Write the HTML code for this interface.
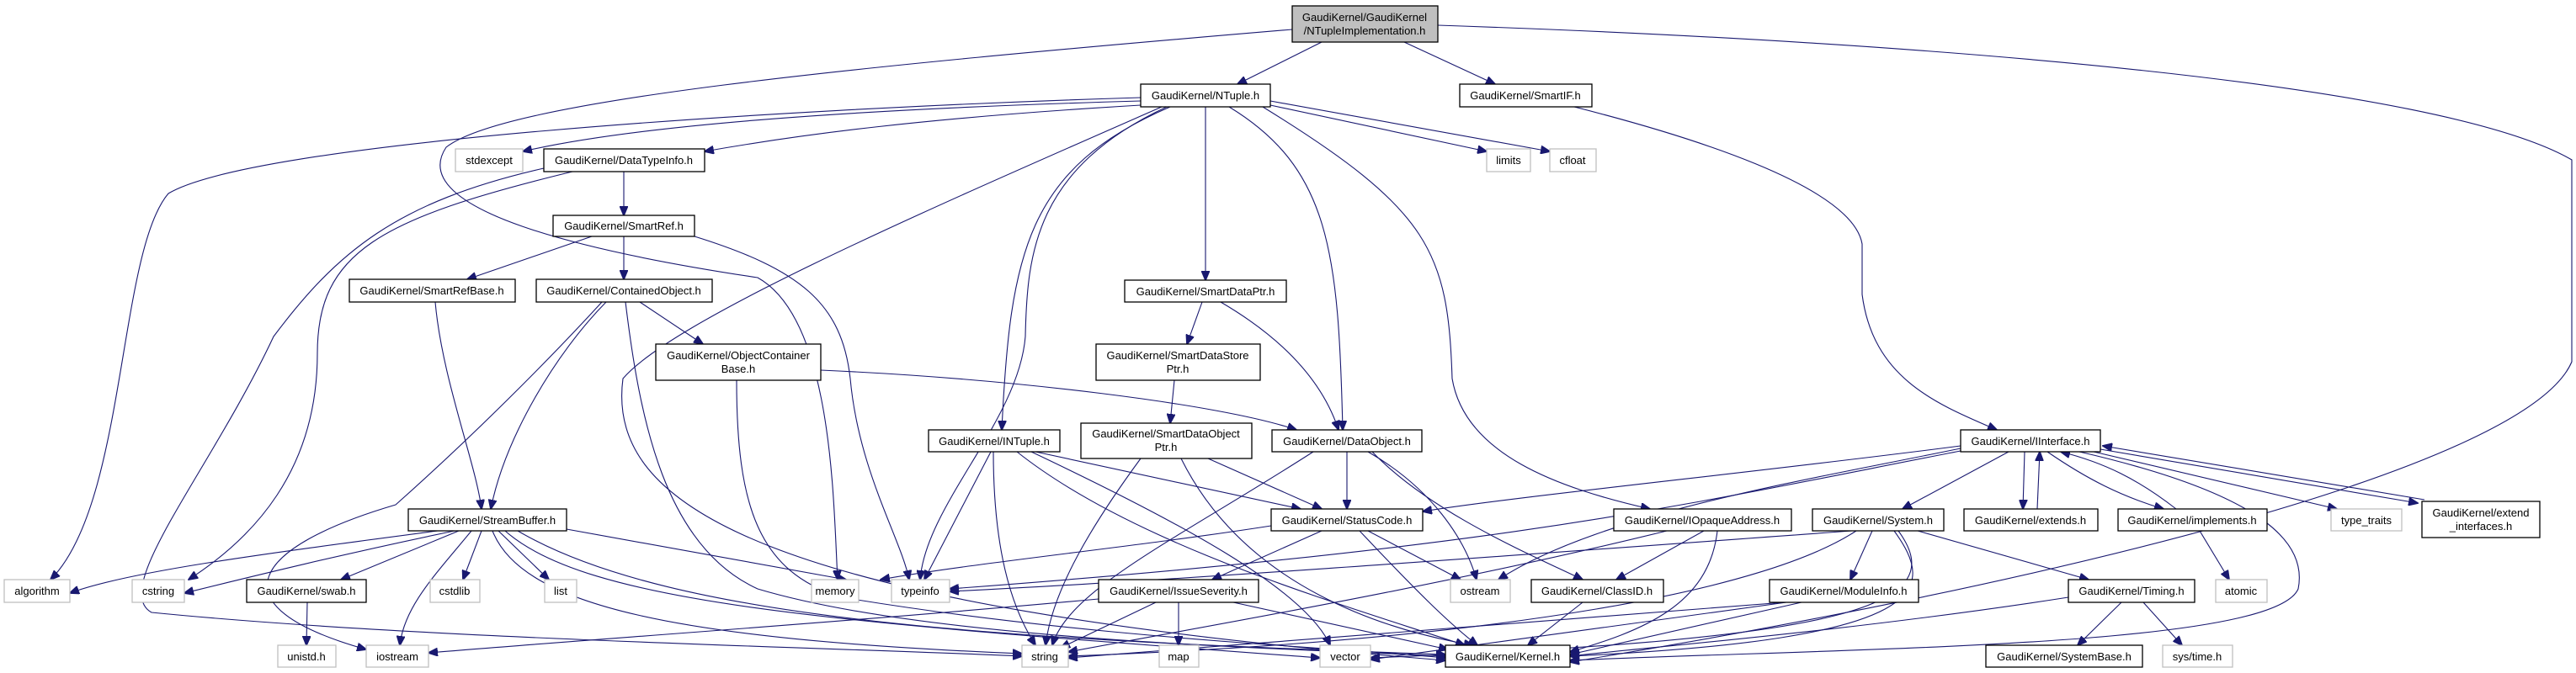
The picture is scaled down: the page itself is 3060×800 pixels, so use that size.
<!DOCTYPE html>
<html><head><meta charset="utf-8"><style>
html,body{margin:0;padding:0;background:#fff;}
svg{display:block;}
text{font-family:"Liberation Sans",Arial,sans-serif;font-size:13px;fill:#000;}
.b{fill:#fff;stroke:#000;stroke-width:1.3;}
.g{fill:#fff;stroke:#bfbfbf;stroke-width:1.3;}
.e{fill:none;stroke:#191970;stroke-width:1.1;marker-end:url(#a);}
</style></head><body>
<svg width="3060" height="800" viewBox="0 0 3060 800" xmlns="http://www.w3.org/2000/svg">
<defs><marker id="a" markerUnits="userSpaceOnUse" markerWidth="12" markerHeight="10" refX="11" refY="5" orient="auto"><path d="M0,0 L12,5 L0,10 z" fill="#191970" stroke="#191970"/></marker></defs>
<g>
<path class="e" d="M1570,50 L1470,100"/>
<path class="e" d="M1668,50 L1776,100"/>
<path class="e" d="M1708,30 C2300,50 2900,100 3055,190 L3055,430 C3000,560 2400,700 1865,787"/>
<path class="e" d="M1535,35 C1000,80 600,120 530,175 C480,250 700,300 900,330 C990,380 990,600 995,689"/>
<path class="e" d="M1355,116 C900,130 300,170 200,230 C140,300 150,600 60,689"/>
<path class="e" d="M1355,120 C1000,130 750,150 621,180"/>
<path class="e" d="M1355,125 C1100,140 950,160 837,180"/>
<path class="e" d="M1509,125 L1766,180"/>
<path class="e" d="M1509,120 L1841,180"/>
<path class="e" d="M1432,127 L1432,333"/>
<path class="e" d="M1390,127 C1220,200 1200,300 1190,511"/>
<path class="e" d="M1380,127 C1100,250 800,380 740,450 C720,600 900,720 1717,785"/>
<path class="e" d="M1386,127 C1230,200 1220,300 1218,400 C1210,500 1100,600 1093,689"/>
<path class="e" d="M1460,127 C1580,200 1590,300 1595,511"/>
<path class="e" d="M1500,127 C1700,250 1720,300 1725,450 C1740,540 1850,580 1960,605"/>
<path class="e" d="M741,204 L741,256"/>
<path class="e" d="M646,200 C470,240 400,300 325,400 C250,560 130,700 180,728 C500,760 1000,770 1214,780"/>
<path class="e" d="M680,204 C450,260 377,300 377,420 C377,560 300,640 224,689"/>
<path class="e" d="M703,281 L555,332"/>
<path class="e" d="M741,281 L741,332"/>
<path class="e" d="M825,281 C950,320 1000,360 1010,450 C1020,560 1070,640 1080,689"/>
<path class="e" d="M517,359 C525,450 565,550 572,605"/>
<path class="e" d="M720,359 C660,420 600,520 583,605"/>
<path class="e" d="M715,359 C650,430 560,520 470,600 C300,650 250,720 435,772"/>
<path class="e" d="M743,359 C760,500 790,650 900,700 C1100,760 1500,770 1717,780"/>
<path class="e" d="M760,359 L835,409"/>
<path class="e" d="M975,440 C1200,450 1450,480 1540,511"/>
<path class="e" d="M875,452 C875,600 900,680 1000,710 C1300,760 1600,770 1717,782"/>
<path class="e" d="M1428,359 L1410,409"/>
<path class="e" d="M1450,359 C1520,400 1570,450 1590,511"/>
<path class="e" d="M1395,452 L1390,503"/>
<path class="e" d="M1435,545 L1570,605"/>
<path class="e" d="M1355,545 C1300,620 1250,700 1242,767"/>
<path class="e" d="M1403,545 C1480,700 1650,750 1750,767"/>
<path class="e" d="M1177,537 L1098,689"/>
<path class="e" d="M1180,537 C1180,650 1200,720 1230,767"/>
<path class="e" d="M1230,537 L1545,605"/>
<path class="e" d="M1208,537 C1350,650 1600,720 1740,767"/>
<path class="e" d="M1225,537 C1400,620 1550,700 1580,767"/>
<path class="e" d="M1600,537 L1600,605"/>
<path class="e" d="M1560,537 C1400,640 1270,700 1250,767"/>
<path class="e" d="M1625,537 C1700,580 1740,640 1754,689"/>
<path class="e" d="M1630,537 C1700,610 1820,660 1880,689"/>
<path class="e" d="M1510,625 C1350,650 1150,670 1046,689"/>
<path class="e" d="M1570,631 L1440,689"/>
<path class="e" d="M1625,631 L1735,689"/>
<path class="e" d="M1615,631 C1680,700 1720,740 1755,767"/>
<path class="e" d="M1305,712 C1000,740 700,760 509,776"/>
<path class="e" d="M1373,716 L1260,770"/>
<path class="e" d="M1400,716 L1400,767"/>
<path class="e" d="M1465,716 L1720,772"/>
<path class="e" d="M520,631 C300,660 150,680 83,705"/>
<path class="e" d="M540,631 C400,660 280,690 219,705"/>
<path class="e" d="M545,631 L405,689"/>
<path class="e" d="M560,631 C520,680 480,720 475,767"/>
<path class="e" d="M572,631 L550,689"/>
<path class="e" d="M592,631 L652,689"/>
<path class="e" d="M673,629 L1005,689"/>
<path class="e" d="M585,631 C620,720 800,760 1214,777"/>
<path class="e" d="M600,631 C700,720 1000,740 1568,782"/>
<path class="e" d="M615,631 C800,740 1200,760 1717,778"/>
<path class="e" d="M365,716 L364,767"/>
<path class="e" d="M2024,631 L1920,689"/>
<path class="e" d="M2040,631 C2030,720 1950,750 1865,775"/>
<path class="e" d="M1980,631 C1700,700 1400,750 1269,775"/>
<path class="e" d="M1880,716 L1815,767"/>
<path class="e" d="M2329,530 C2100,560 1800,590 1690,608"/>
<path class="e" d="M2329,533 C2150,570 1900,610 1780,689"/>
<path class="e" d="M2329,536 C2000,600 1800,650 1128,700"/>
<path class="e" d="M2386,537 L2260,605"/>
<path class="e" d="M2405,537 L2403,605"/>
<path class="e" d="M2420,605 L2423,537"/>
<path class="e" d="M2432,537 C2480,570 2520,590 2570,605"/>
<path class="e" d="M2585,605 C2540,570 2500,550 2448,537"/>
<path class="e" d="M2487,537 L2776,605"/>
<path class="e" d="M2495,534 L2872,598"/>
<path class="e" d="M2880,594 L2498,530"/>
<path class="e" d="M2470,537 C2700,590 2740,650 2730,700 C2700,770 2200,770 1865,785"/>
<path class="e" d="M1870,127 C2000,160 2200,220 2212,290 L2212,350 C2225,450 2300,480 2372,511"/>
<path class="e" d="M2200,631 C1800,660 1400,690 1128,703"/>
<path class="e" d="M2224,631 L2198,689"/>
<path class="e" d="M2278,631 L2481,689"/>
<path class="e" d="M2250,631 C2300,700 2300,760 1865,780"/>
<path class="e" d="M2205,631 C2100,700 1800,760 1269,780"/>
<path class="e" d="M2255,631 C2320,720 2200,760 1628,782"/>
<path class="e" d="M2120,716 L1269,782"/>
<path class="e" d="M2140,716 L1865,778"/>
<path class="e" d="M2122,716 L1628,784"/>
<path class="e" d="M2520,716 L2468,767"/>
<path class="e" d="M2546,716 L2592,767"/>
<path class="e" d="M2457,710 C2200,750 1950,770 1865,780"/>
<path class="e" d="M2613,631 L2648,689"/>
</g>
<g text-anchor="middle">
<rect x="1535" y="7" width="173" height="43" fill="#bfbfbf" stroke="#000" stroke-width="1.3"/>
<text x="1621" y="25">GaudiKernel/GaudiKernel</text><text x="1621" y="41">/NTupleImplementation.h</text>
<rect class="b" x="1355" y="100" width="154" height="27"/><text x="1432" y="118">GaudiKernel/NTuple.h</text>
<rect class="b" x="1734" y="100" width="157" height="27"/><text x="1812" y="118">GaudiKernel/SmartIF.h</text>
<rect class="g" x="1766" y="177" width="52" height="27"/><text x="1792" y="195">limits</text>
<rect class="g" x="1841" y="177" width="55" height="27"/><text x="1868" y="195">cfloat</text>
<rect class="g" x="541" y="177" width="80" height="27"/><text x="581" y="195">stdexcept</text>
<rect class="b" x="646" y="177" width="191" height="27"/><text x="741" y="195">GaudiKernel/DataTypeInfo.h</text>
<rect class="b" x="657" y="256" width="168" height="25"/><text x="741" y="273">GaudiKernel/SmartRef.h</text>
<rect class="b" x="415" y="332" width="197" height="27"/><text x="513" y="350">GaudiKernel/SmartRefBase.h</text>
<rect class="b" x="637" y="332" width="209" height="27"/><text x="741" y="350">GaudiKernel/ContainedObject.h</text>
<rect class="b" x="1336" y="333" width="192" height="26"/><text x="1432" y="351">GaudiKernel/SmartDataPtr.h</text>
<rect class="b" x="779" y="409" width="196" height="43"/><text x="877" y="427">GaudiKernel/ObjectContainer</text><text x="877" y="443">Base.h</text>
<rect class="b" x="1302" y="409" width="195" height="43"/><text x="1399" y="427">GaudiKernel/SmartDataStore</text><text x="1399" y="443">Ptr.h</text>
<rect class="b" x="1103" y="511" width="156" height="26"/><text x="1181" y="529">GaudiKernel/INTuple.h</text>
<rect class="b" x="1284" y="503" width="203" height="42"/><text x="1385" y="520">GaudiKernel/SmartDataObject</text><text x="1385" y="536">Ptr.h</text>
<rect class="b" x="1511" y="511" width="178" height="26"/><text x="1600" y="529">GaudiKernel/DataObject.h</text>
<rect class="b" x="2329" y="511" width="166" height="26"/><text x="2412" y="529">GaudiKernel/IInterface.h</text>
<rect class="b" x="485" y="605" width="188" height="26"/><text x="579" y="623">GaudiKernel/StreamBuffer.h</text>
<rect class="b" x="1510" y="605" width="180" height="26"/><text x="1600" y="623">GaudiKernel/StatusCode.h</text>
<rect class="b" x="1917" y="605" width="211" height="26"/><text x="2022" y="623">GaudiKernel/IOpaqueAddress.h</text>
<rect class="b" x="2153" y="605" width="156" height="26"/><text x="2231" y="623">GaudiKernel/System.h</text>
<rect class="b" x="2333" y="605" width="159" height="26"/><text x="2412" y="623">GaudiKernel/extends.h</text>
<rect class="b" x="2516" y="605" width="177" height="26"/><text x="2604" y="623">GaudiKernel/implements.h</text>
<rect class="g" x="2769" y="605" width="84" height="26"/><text x="2811" y="623">type_traits</text>
<rect class="b" x="2877" y="596" width="140" height="43"/><text x="2947" y="614">GaudiKernel/extend</text><text x="2947" y="630">_interfaces.h</text>
<rect class="g" x="5" y="689" width="78" height="27"/><text x="44" y="707">algorithm</text>
<rect class="g" x="157" y="689" width="62" height="27"/><text x="188" y="707">cstring</text>
<rect class="b" x="293" y="689" width="142" height="27"/><text x="364" y="707">GaudiKernel/swab.h</text>
<rect class="g" x="511" y="689" width="59" height="27"/><text x="540" y="707">cstdlib</text>
<rect class="g" x="647" y="689" width="38" height="27"/><text x="666" y="707">list</text>
<rect class="g" x="964" y="689" width="56" height="27"/><text x="992" y="707">memory</text>
<rect class="g" x="1059" y="689" width="69" height="27"/><text x="1093" y="707">typeinfo</text>
<rect class="b" x="1305" y="689" width="190" height="27"/><text x="1400" y="707">GaudiKernel/IssueSeverity.h</text>
<rect class="g" x="1723" y="689" width="71" height="27"/><text x="1758" y="707">ostream</text>
<rect class="b" x="1819" y="689" width="157" height="27"/><text x="1897" y="707">GaudiKernel/ClassID.h</text>
<rect class="b" x="2102" y="689" width="177" height="27"/><text x="2190" y="707">GaudiKernel/ModuleInfo.h</text>
<rect class="b" x="2457" y="689" width="150" height="27"/><text x="2532" y="707">GaudiKernel/Timing.h</text>
<rect class="g" x="2632" y="689" width="61" height="27"/><text x="2662" y="707">atomic</text>
<rect class="g" x="330" y="767" width="69" height="26"/><text x="364" y="785">unistd.h</text>
<rect class="g" x="435" y="767" width="74" height="26"/><text x="472" y="785">iostream</text>
<rect class="g" x="1214" y="767" width="55" height="26"/><text x="1241" y="785">string</text>
<rect class="g" x="1377" y="767" width="47" height="26"/><text x="1400" y="785">map</text>
<rect class="g" x="1568" y="767" width="60" height="26"/><text x="1598" y="785">vector</text>
<rect class="b" x="1717" y="767" width="148" height="26"/><text x="1791" y="785">GaudiKernel/Kernel.h</text>
<rect class="b" x="2359" y="767" width="186" height="26"/><text x="2452" y="785">GaudiKernel/SystemBase.h</text>
<rect class="g" x="2569" y="767" width="83" height="26"/><text x="2610" y="785">sys/time.h</text>
</g>
</svg>
</body></html>
